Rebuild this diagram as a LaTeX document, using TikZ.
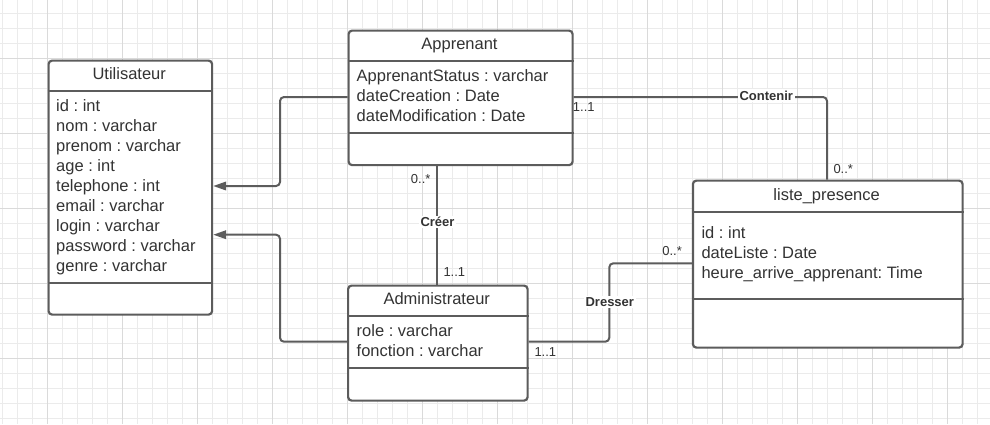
\documentclass[tikz,border=0pt]{standalone}
\usepackage{fontspec}
\setmainfont{Liberation Sans}
\usetikzlibrary{arrows.meta}
\definecolor{ln}{HTML}{5C5C5C}
\definecolor{tx}{HTML}{333333}
\definecolor{gminor}{HTML}{EBEBEB}
\definecolor{gmajor}{HTML}{DADADA}
\frenchspacing
\begin{document}
\begin{tikzpicture}[x=1pt,y=-1pt,
 box/.style={draw=ln, line width=2.2pt, fill=white, rounded corners=3.5pt, inner sep=0pt, anchor=north west},
 sep/.style={draw=ln, line width=2.2pt},
 title/.style={anchor=base, text=tx, font=\fontsize{16.5}{20}\selectfont, inner sep=0pt},
 attr/.style={anchor=base west, text=tx, font=\fontsize{16.5}{20}\selectfont, inner sep=0pt},
 conn/.style={draw=ln, line width=2pt, rounded corners=4pt},
 arr/.style={-{Triangle[length=13pt,width=8.5pt]}},
 mult/.style={text=tx, font=\fontsize{13}{15}\selectfont, inner sep=0pt},
 assoc/.style={text=tx, font=\bfseries\fontsize{13}{15}\selectfont, fill=white, inner sep=1.5pt, anchor=base},
]
\useasboundingbox (0,0) rectangle (990,424);
\fill[white] (0,0) rectangle (990,424);
% grid
\foreach \i in {0,...,65} \draw[gminor, line width=1pt] (2.7+15*\i,0) -- (2.7+15*\i,424);
\foreach \j in {0,...,27} \draw[gminor, line width=1pt] (0,13.3+15*\j) -- (990,13.3+15*\j);
\foreach \i in {0,...,12} \draw[gmajor, line width=1pt] (47.7+75*\i,0) -- (47.7+75*\i,424);
\foreach \j in {0,...,4} \draw[gmajor, line width=1pt] (0,58.3+75*\j) -- (990,58.3+75*\j);

% Utilisateur
\node[box, minimum width=163.5pt, minimum height=254pt] (util) at (47.5,59.5) {};
\draw[sep] (util.west |- 0,90.7) -- (util.east |- 0,90.7);
\draw[sep] (util.west |- 0,283.3) -- (util.east |- 0,283.3);
\node[title] (utilT) at (129.25,79) {Utilisateur};
\node[attr] (u1) at (56,111) {id : int};
\node[attr] (u2) at (56,131) {nom : varchar};
\node[attr] (u3) at (56,151) {prenom : varchar};
\node[attr] (u4) at (56,171) {age : int};
\node[attr] (u5) at (56,191) {telephone : int};
\node[attr] (u6) at (56,211) {email : varchar};
\node[attr] (u7) at (56,231) {login : varchar};
\node[attr] (u8) at (56,251) {password : varchar};
\node[attr] (u9) at (56,271) {genre : varchar};

% Apprenant
\node[box, minimum width=224pt, minimum height=134.5pt] (app) at (347.5,29.5) {};
\draw[sep] (app.west |- 0,61) -- (app.east |- 0,61);
\draw[sep] (app.west |- 0,132.7) -- (app.east |- 0,132.7);
\node[title] (appT) at (459.5,49) {Apprenant};
\node[attr] (a1) at (356.5,81) {ApprenantStatus : varchar};
\node[attr] (a2) at (356.5,101) {dateCreation : Date};
\node[attr] (a3) at (356.5,121) {dateModification : Date};

% liste_presence
\node[box, minimum width=269.7pt, minimum height=167pt] (liste) at (691.8,179.5) {};
\draw[sep] (liste.west |- 0,211.7) -- (liste.east |- 0,211.7);
\draw[sep] (liste.west |- 0,299) -- (liste.east |- 0,299);
\node[title] (listeT) at (826.65,200) {liste\_presence};
\node[attr] (l1) at (701.3,238.3) {id : int};
\node[attr] (l2) at (701.3,258.3) {dateListe : Date};
\node[attr] (l3) at (701.3,278.3) {heure\_arrive\_apprenant: Time};

% Administrateur
\node[box, minimum width=179.5pt, minimum height=115pt] (admin) at (347,284.5) {};
\draw[sep] (admin.west |- 0,316) -- (admin.east |- 0,316);
\draw[sep] (admin.west |- 0,368.3) -- (admin.east |- 0,368.3);
\node[title] (adminT) at (436.75,304) {Administrateur};
\node[attr] (d1) at (356.5,336) {role : varchar};
\node[attr] (d2) at (356.5,356) {fonction : varchar};

% bend points
\coordinate (b1) at (280,97);
\coordinate (b2) at (280,186);
\coordinate (b3) at (280,341.7);
\coordinate (b4) at (280,234.7);
\coordinate (c1) at (827,97);
\coordinate (d1b) at (609.3,341.7);
\coordinate (d2b) at (609.3,263.3);
\coordinate (cr) at (437,200);

% inheritance
\draw[conn, arr] (app.west |- b1) -- (b1) -- (b2) -- (util.east |- b2);
\draw[conn, arr] (admin.west |- b3) -- (b3) -- (b4) -- (util.east |- b4);

% Creer
\draw[conn] (app.south -| cr) -- (admin.north -| cr);
\node[assoc] (creer) at (437.5,226.7) {Créer};
\node[mult, anchor=base east] (m1) at (430.7,183.3) {0..*};
\node[mult, anchor=base west] (m2) at (443.3,276) {1..1};

% Contenir
\draw[conn] (app.east |- c1) -- (c1) -- (liste.north -| c1);
\node[assoc] (contenir) at (766.3,100) {Contenir};
\node[mult, anchor=base west] (m3) at (572.7,111.7) {1..1};
\node[mult, anchor=base west] (m4) at (833.3,173.3) {0..*};

% Dresser
\draw[conn] (admin.east |- d1b) -- (d1b) -- (d2b) -- (liste.west |- d2b);
\node[assoc] (dresser) at (609.8,306) {Dresser};
\node[mult, anchor=base west] (m5) at (534.3,356) {1..1};
\node[mult, anchor=base east] (m6) at (682,255) {0..*};
\end{tikzpicture}
\end{document}
